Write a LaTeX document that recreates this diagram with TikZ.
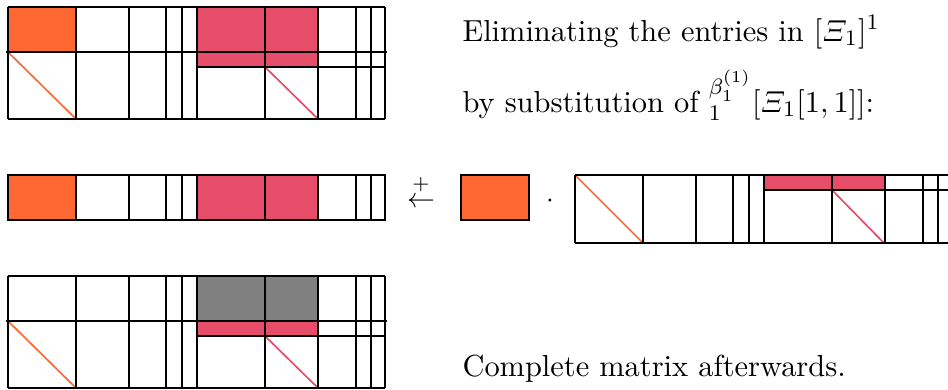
\documentclass[tikz,border=0pt]{standalone}
\usepackage{amsmath,amssymb}
\usepackage{tikz}
\usetikzlibrary{arrows.meta,positioning,calc}
\definecolor{PivotOrange}{HTML}{FF6833}
\definecolor{ElimRed}{HTML}{E54D69}
\definecolor{DoneGray}{HTML}{808080}

\begin{document}
\begin{tikzpicture}[x=0.36pt,y=-0.36pt,>=Latex,
    grid/.style={black, line width=0.55pt},
    gridthin/.style={black, line width=0.4pt},
    gridthick/.style={black, line width=1pt},
    diag/.style={line width=0.6pt},
    txt/.style={anchor=base west, inner sep=0pt, font=\fontsize{10.95}{13.6}\selectfont}]
        \clip (0,0) rectangle (948,389);
        % top and bottom: full matrix
        \fill[PivotOrange] (8,7) rectangle (76,52);
        \fill[ElimRed] (197,7) rectangle (318,67);
        \fill[DoneGray] (197,276) rectangle (318,321);
        \fill[ElimRed] (197,321) rectangle (318,336);
        \foreach \yo in {0,269}{
            \draw[diag, PivotOrange] (8,52+\yo) -- (76,119+\yo);
            \draw[diag, ElimRed] (265,67+\yo) -- (318,119+\yo);
            \foreach \x in {8,76,129,182,265,318,371,385}
                \draw[grid] (\x,7+\yo) -- (\x,119+\yo);
            \foreach \x in {166,356}
                \draw[gridthin] (\x,7+\yo) -- (\x,119+\yo);
            \draw[gridthick] (197,7+\yo) -- (197,119+\yo);
            \draw[grid] (8,7+\yo) -- (385,7+\yo);
            \draw[grid] (6,52+\yo) -- (387,52+\yo);
            \draw[grid] (197,67+\yo) -- (385,67+\yo);
            \draw[grid] (8,119+\yo) -- (385,119+\yo);
        }
        % middle: pivot row
        \fill[PivotOrange] (8,175) rectangle (76,220);
        \fill[ElimRed] (197,175) rectangle (318,220);
        \foreach \x in {8,76,129,182,265,318,371,385}
            \draw[grid] (\x,175) -- (\x,220);
        \foreach \x in {166,356}
            \draw[gridthin] (\x,175) -- (\x,220);
        \draw[gridthick] (197,175) -- (197,220);
        \draw[grid] (8,175) rectangle (385,220);
        \node[inner sep=0pt] (upd) at (421,202) {$\leftarrow$};
        \node[inner sep=0pt] (plus) at (421,185) {$\scriptstyle +$};
        \fill[PivotOrange, draw=black, line width=0.55pt] (461,175) rectangle (529,220);
        \node[inner sep=0pt] (mul) at (550,201) {$\cdot$};
        % middle: lower block row
        \fill[ElimRed] (764,175) rectangle (884,190);
        \draw[diag, PivotOrange] (575,175) -- (643,243);
        \draw[diag, ElimRed] (832,190) -- (884,243);
        \foreach \x in {575,643,696,749,832,885,938,952}
            \draw[grid] (\x,175) -- (\x,243);
        \foreach \x in {733,923}
            \draw[gridthin] (\x,175) -- (\x,243);
        \draw[gridthick] (764,175) -- (764,243);
        \draw[grid] (575,175) -- (960,175);
        \draw[grid] (764,190) -- (960,190);
        \draw[grid] (575,243) -- (960,243);
        % texts
        \node[txt] (elim) at (462,41) {Eliminating the entries in $[\varXi_1]^1$};
        \node[txt] (subst) at (462,112) {by substitution of ${}_{1}^{\beta_1^{(1)}}[\varXi_1[1,1]]$:};
        \node[txt] (after) at (462,376) {Complete matrix afterwards.};
    \end{tikzpicture}
\end{document}
